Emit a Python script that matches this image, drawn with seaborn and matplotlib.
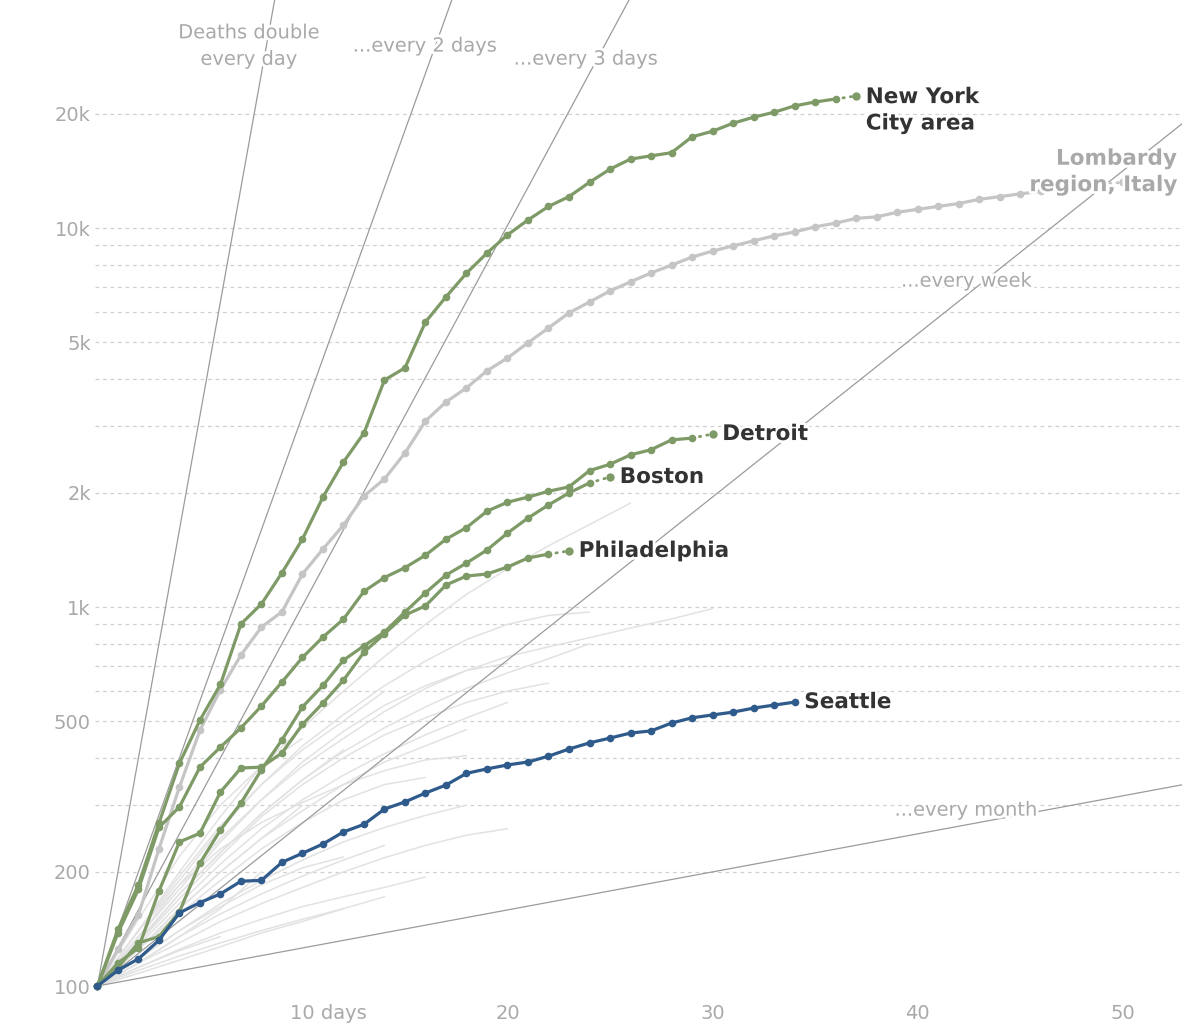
import numpy as np
import pandas as pd
import matplotlib
matplotlib.use('Agg')
import matplotlib.pyplot as plt
import matplotlib.patheffects as pe
import matplotlib.transforms as mtransforms
from matplotlib.ticker import FixedLocator, NullLocator
import seaborn as sns

# cumulative deaths, one value per day since the 100th death
nyc = [100, 141, 185, 269, 387, 503, 625, 902, 1019, 1231, 1511, 1950, 2414, 2877,
       3970, 4275, 5650, 6580, 7600, 8590, 9590, 10500, 11400, 12100, 13200, 14300,
       15200, 15500, 15800, 17400, 18000, 18900, 19600, 20200, 21000, 21500, 21900, 22300]
lombardy = [100, 125, 154, 230, 335, 473, 605, 747, 885, 971, 1222, 1422, 1645, 1962,
            2177, 2549, 3096, 3475, 3785, 4200, 4540, 4980, 5450, 5970, 6380, 6820, 7210,
            7610, 7980, 8380, 8690, 8970, 9250, 9530, 9760, 10070, 10300, 10600, 10700,
            11000, 11200, 11400, 11600, 11900, 12100, 12300, 12500, 12700, 12900, 13050, 13200]
detroit = [100, 138, 180, 262, 297, 378, 427, 480, 548, 634, 736, 833, 929, 1100, 1196,
           1270, 1370, 1510, 1620, 1790, 1890, 1950, 2020, 2075, 2290, 2380, 2520, 2600,
           2760, 2790, 2860]
boston = [100, 112, 130, 135, 157, 211, 258, 304, 372, 446, 545, 621, 724, 790, 859, 970,
          1090, 1214, 1306, 1414, 1567, 1717, 1859, 2000, 2125, 2203]
philadelphia = [100, 115, 126, 178, 240, 253, 325, 376, 378, 412, 490, 558, 641, 760, 850,
                952, 1007, 1143, 1207, 1222, 1275, 1347, 1379, 1406]
seattle = [100, 110, 118, 132, 156, 166, 175, 189, 190, 212, 224, 237, 255, 267, 293, 306,
           323, 339, 364, 374, 383, 390, 404, 422, 438, 451, 465, 471, 494, 510, 519, 528,
           541, 551, 561]

# other metro areas, one value every 2 days
other_metros = [
    [100, 140, 200, 280, 380, 480, 600, 740, 900, 1080, 1260, 1450, 1650, 1880],
    [100, 135, 185, 245, 310, 380, 450, 530, 610, 680, 740, 785, 830, 880, 930, 990],
    [100, 130, 170, 220, 280, 340, 400, 460, 510, 560, 600, 630],
    [100, 140, 190, 260, 340, 430, 520, 620, 720, 820, 900, 950, 970],
    [100, 135, 180, 240, 310, 390, 470, 550, 620, 680, 710],
    [100, 125, 160, 200, 245, 290, 340, 390, 430, 475],
    [100, 140, 185, 230, 270, 305, 340, 370, 395, 405],
    [100, 125, 155, 190, 230, 270, 310, 340, 355],
    [100, 115, 135, 155, 175, 195, 215, 235],
    [100, 118, 140, 162, 185, 205, 219],
    [100, 110, 120, 130, 140, 150, 160, 172],
    [100, 112, 125, 138, 150, 162, 172, 182, 194],
    [100, 140, 195, 265, 340, 420, 500, 600],
    [100, 130, 175, 225, 285, 350, 420],
    [100, 125, 160, 200, 245, 300],
    [100, 115, 135, 160, 200],
    [100, 128, 165, 210, 260, 310, 360, 410, 460, 510, 560],
    [100, 132, 175, 225, 285, 350, 415, 480, 545, 610, 670, 730, 800],
    [100, 108, 117, 127, 138, 148, 160],
    [100, 115, 130, 148, 165, 182, 200, 218, 235, 250, 260],
    [100, 150, 220, 300, 380, 450],
    [100, 118, 140, 165, 190, 215, 240, 262, 282, 300],
    [100, 112, 124, 135],
]

doubling_days = [1, 2, 3, 7, 30]
doubling_labels = ['Deaths double\nevery day', '...every 2 days', '...every 3 days',
                   '...every week', '...every month']

ytick_values = [100, 200, 500, 1000, 2000, 5000, 10000, 20000]
ytick_labels = ['100', '200', '500', '1k', '2k', '5k', '10k', '20k']
grid_values = [200, 300, 400, 500, 600, 700, 800, 900, 1000, 2000, 3000, 4000, 5000,
               6000, 7000, 8000, 9000, 10000, 20000]
xtick_values = [10, 20, 30, 40, 50]
xtick_labels = ['10 days', '20', '30', '40', '50']

GREEN = '#7e9a66'
BLUE = '#2f5b8c'
LGRAY = '#c5c5c5'
LABEL_GRAY = '#a9a9a9'
DARK = '#333333'

sns.set_style('white')
plt.rcParams['font.family'] = ['DejaVu Sans']

fig = plt.figure(figsize=(11.82, 10.26), dpi=100)
ax = fig.add_axes([95 / 1182, 39 / 1026, 1 - 95 / 1182, 1 - 39 / 1026])
ax.set_yscale('log')

# background metros
rows = []
for i, vals in enumerate(other_metros):
    for j, v in enumerate(vals):
        rows.append((i, 2 * j, v))
gray_df = pd.DataFrame(rows, columns=['metro', 'day', 'deaths'])
sns.lineplot(data=gray_df, x='day', y='deaths', units='metro', estimator=None,
             color='#e2e2e2', lw=1.1, ax=ax, zorder=1, legend=False)

# doubling guide lines
for d in doubling_days:
    ax.plot([0, 60], [100, 100 * 2 ** (60 / d)], color='#9b9b9b', lw=0.9, zorder=2)


def draw_series(values, color, z, dotted_end=True):
    days = np.arange(len(values))
    n = len(values) - 1 if dotted_end else len(values)
    sns.lineplot(x=days[:n], y=values[:n], estimator=None, color=color, lw=2.3,
                 marker='o', markersize=5.5, markeredgecolor=color, markeredgewidth=0,
                 ax=ax, zorder=z, clip_on=False)
    if dotted_end:
        sns.lineplot(x=days[-2:], y=values[-2:], estimator=None, color=color, lw=2.0,
                     linestyle=(0, (0.5, 2.2)), dash_capstyle='round',
                     marker='o', markevery=[1], markersize=6, markeredgewidth=0,
                     markeredgecolor=color, ax=ax, zorder=z)


draw_series(lombardy, LGRAY, 3)
draw_series(nyc, GREEN, 4)
draw_series(detroit, GREEN, 4)
draw_series(boston, GREEN, 4)
draw_series(philadelphia, GREEN, 4)
draw_series(seattle, BLUE, 5, dotted_end=False)

halo = [pe.withStroke(linewidth=4, foreground='white')]

# guide labels
guide_pos = [(7.39, 30200), (15.98, 30200), (23.83, 27900), (42.4, 7240), (42.37, 291)]
for (gx, gy), txt in zip(guide_pos, doubling_labels):
    ax.text(gx, gy, txt, ha='center', va='center', fontsize=14, color=LABEL_GRAY,
            linespacing=1.5, zorder=6, path_effects=halo)

# series labels next to the last point
for vals, name, dy in [(nyc, 'New York\nCity area', -10.3), (detroit, 'Detroit', 0),
                       (boston, 'Boston', 0), (philadelphia, 'Philadelphia', 0),
                       (seattle, 'Seattle', 0)]:
    ax.annotate(name, (len(vals) - 1, vals[-1]), xytext=(7, dy), textcoords='offset points',
                ha='left', va='center', fontsize=15.5, fontweight='bold', color=DARK,
                linespacing=1.4, zorder=7, annotation_clip=False, path_effects=halo)

ax.text(52.65, 14060, 'Lombardy\nregion, Italy', ha='right', va='center', fontsize=15.5,
        fontweight='bold', color=LABEL_GRAY, linespacing=1.4, zorder=7, clip_on=False,
        path_effects=halo)

ax.set_xlim(-0.12, 52.9)
ax.set_ylim(10 ** (2 - 1 / 379), 10 ** (2 + 986 / 379))

for g in grid_values:
    ax.axhline(g, color='#d0d0d0', lw=0.9, ls=(0, (3, 3)), zorder=0)

ax.yaxis.set_major_locator(FixedLocator(ytick_values))
ax.yaxis.set_minor_locator(NullLocator())
ax.set_yticklabels(ytick_labels)
ax.set_xticks(xtick_values)
ax.set_xticklabels(xtick_labels)
ax.tick_params(axis='y', length=0, pad=3, labelsize=14, labelcolor=LABEL_GRAY)
ax.tick_params(axis='x', length=7, width=0.9, color='#b5b5b5', pad=5, labelsize=14,
               labelcolor=LABEL_GRAY)
ax.set_xlabel('')
ax.set_ylabel('')
for s in ax.spines.values():
    s.set_visible(False)

first = ax.get_xticklabels()[0]
first.set_ha('left')
first.set_transform(first.get_transform() +
                    mtransforms.ScaledTranslation(-12 / 100, 0, fig.dpi_scale_trans))

fig.savefig('out.png', dpi=100)
